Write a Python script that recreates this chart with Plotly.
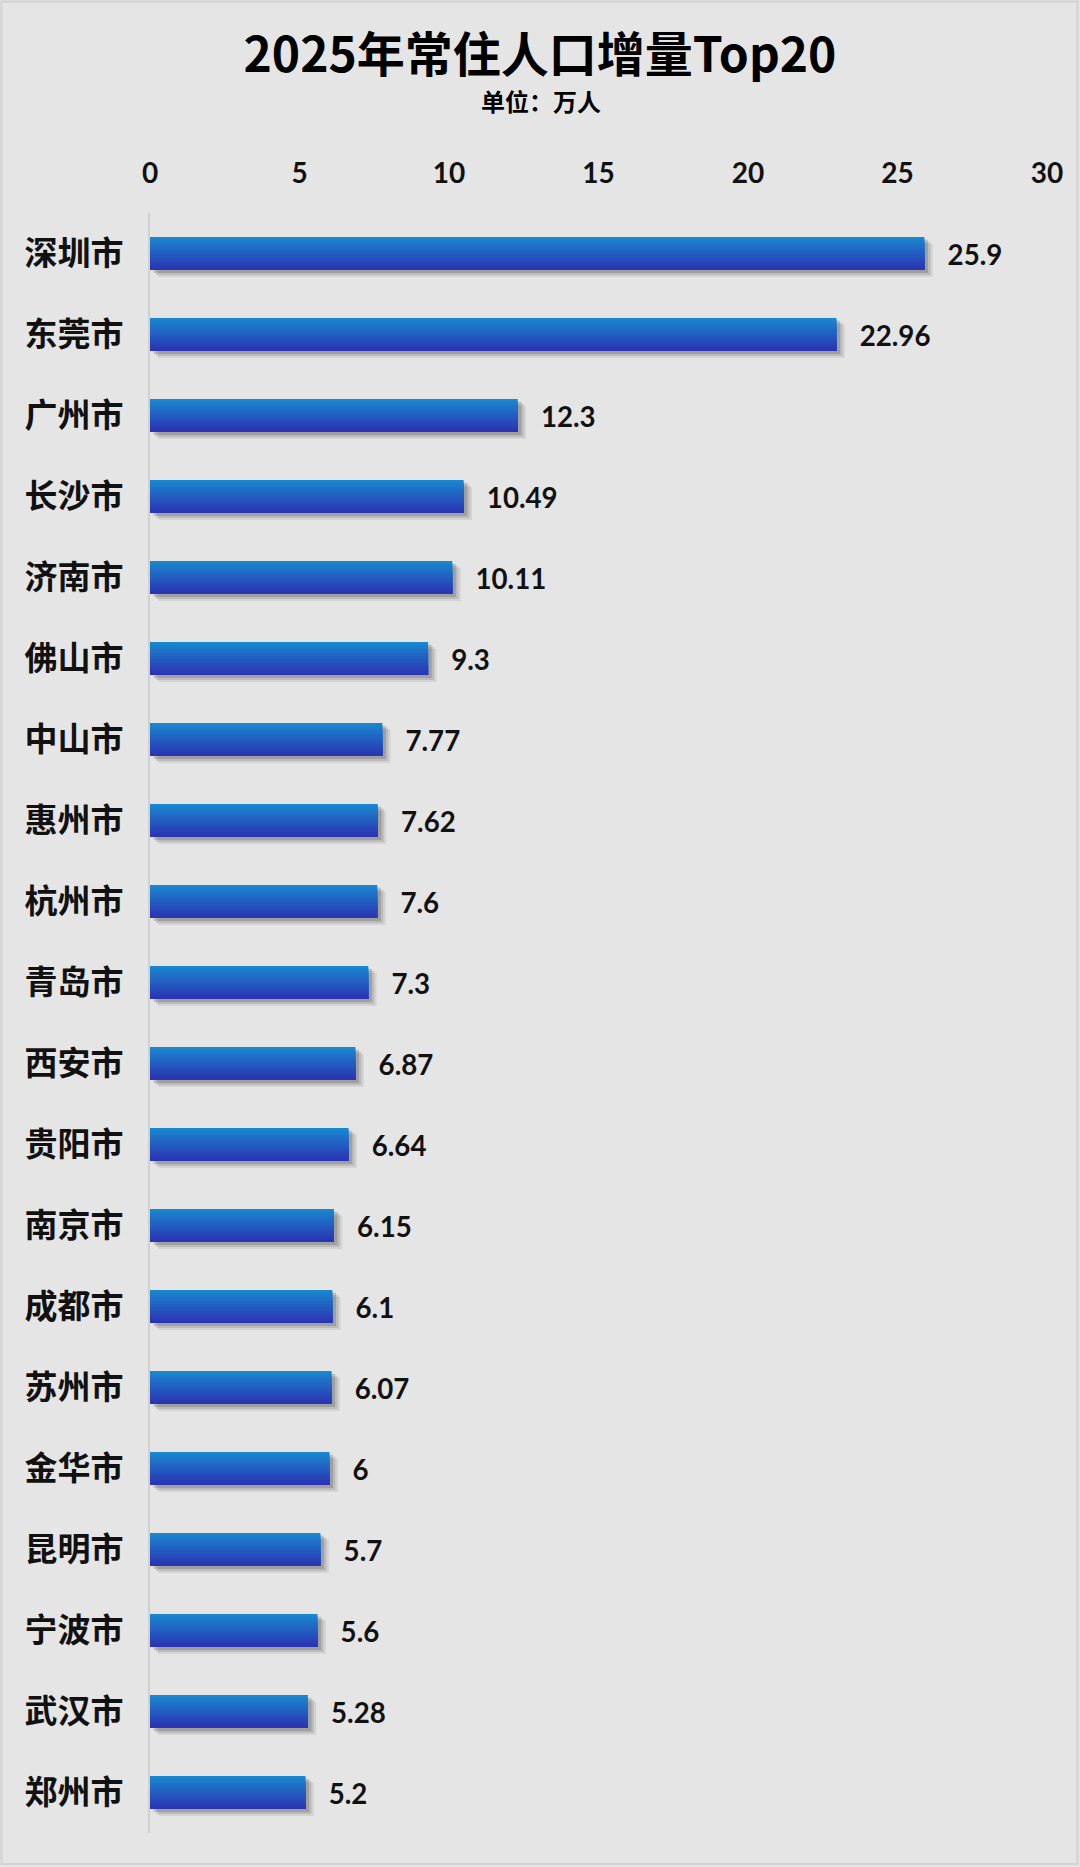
import plotly.graph_objects as go

cities = ["深圳市", "东莞市", "广州市", "长沙市", "济南市", "佛山市", "中山市", "惠州市",
          "杭州市", "青岛市", "西安市", "贵阳市", "南京市", "成都市", "苏州市", "金华市",
          "昆明市", "宁波市", "武汉市", "郑州市"]
values = [25.9, 22.96, 12.3, 10.49, 10.11, 9.3, 7.77, 7.62, 7.6, 7.3,
          6.87, 6.64, 6.15, 6.1, 6.07, 6, 5.7, 5.6, 5.28, 5.2]
x_ticks = [0, 5, 10, 15, 20, 25, 30]

BAR_W = 0.41
N_STRIPS = 14
TOP_RGB = (26, 134, 206)
BOT_RGB = (43, 52, 178)

fig = go.Figure()

# soft shadow layers
for dx, dy, a in [(0.28, 0.085, 0.10), (0.2, 0.06, 0.16), (0.12, 0.035, 0.22)]:
    fig.add_trace(go.Bar(
        x=values, y=cities, orientation="h", base=dx,
        width=BAR_W, offset=-BAR_W / 2 + dy,
        marker=dict(color=f"rgba(60,60,60,{a})", line=dict(width=0)),
        hoverinfo="skip", showlegend=False,
    ))

# gradient bar body (overlapping strips)
for i in range(N_STRIPS):
    t = i / (N_STRIPS - 1)
    r = round(TOP_RGB[0] + (BOT_RGB[0] - TOP_RGB[0]) * t)
    g = round(TOP_RGB[1] + (BOT_RGB[1] - TOP_RGB[1]) * t)
    b = round(TOP_RGB[2] + (BOT_RGB[2] - TOP_RGB[2]) * t)
    off = -BAR_W / 2 + i * BAR_W / N_STRIPS
    fig.add_trace(go.Bar(
        x=values, y=cities, orientation="h",
        width=BAR_W - i * BAR_W / N_STRIPS, offset=off,
        marker=dict(color=f"rgb({r},{g},{b})", line=dict(width=0)),
        hoverinfo="skip", showlegend=False,
    ))

# value labels
fig.add_trace(go.Bar(
    x=values, y=cities, orientation="h", width=BAR_W, offset=-BAR_W / 2,
    marker=dict(color="rgba(0,0,0,0)", line=dict(width=0)),
    text=values, texttemplate="\u00a0\u00a0\u00a0%{x}", textposition="outside",
    textfont=dict(family="Lato", size=30, color="#111111", weight="bold"),
    cliponaxis=False, showlegend=False, hoverinfo="skip",
))

fig.update_layout(
    width=1080, height=1867,
    barmode="overlay",
    paper_bgcolor="#e5e5e5", plot_bgcolor="#e5e5e5",
    margin=dict(l=150, r=33, t=213, b=34),
    title=dict(
        text="2025年常住人口增量Top20",
        x=0.5, xanchor="center", y=1 - 55 / 1867, yanchor="middle",
        font=dict(family="Noto Sans CJK SC", size=48, color="#000000", weight="bold"),
    ),
    annotations=[dict(
        text="单位：万人", xref="paper", yref="paper",
        x=(541 - 150) / (1080 - 183), y=1 + (213 - 100) / 1620,
        xanchor="center", yanchor="middle", showarrow=False,
        font=dict(family="Noto Sans CJK SC", size=24, color="#000000", weight="bold"),
    )],
    shapes=[dict(type="rect", xref="paper", yref="paper",
                 x0=-150 / 897 + 1.5 / 897, x1=1 + 30.5 / 897,
                 y0=-31 / 1620, y1=1 + 211.5 / 1620,
                 line=dict(color="#d2d2d2", width=2), fillcolor="rgba(0,0,0,0)",
                 layer="below")],
    xaxis=dict(
        side="top", range=[0, 30], tickvals=x_ticks, ticktext=[str(v) for v in x_ticks],
        showgrid=False, zeroline=False, showline=False,
        ticks="outside", ticklen=18, tickcolor="rgba(0,0,0,0)",
        tickfont=dict(family="Lato", size=28, color="#111111", weight="bold"),
    ),
    yaxis=dict(
        categoryorder="array", categoryarray=cities, autorange="reversed",
        showgrid=False, zeroline=False,
        showline=True, linecolor="#d0d0d0", linewidth=2,
        ticks="outside", ticklen=18, tickcolor="rgba(0,0,0,0)",
        tickfont=dict(family="Noto Sans CJK SC", size=33, color="#111111", weight="bold"),
    ),
)

fig.write_html(
    "out.html",
    config={"displayModeBar": False},
    post_script="document.body.style.margin='0';document.body.style.overflow='hidden';",
)
